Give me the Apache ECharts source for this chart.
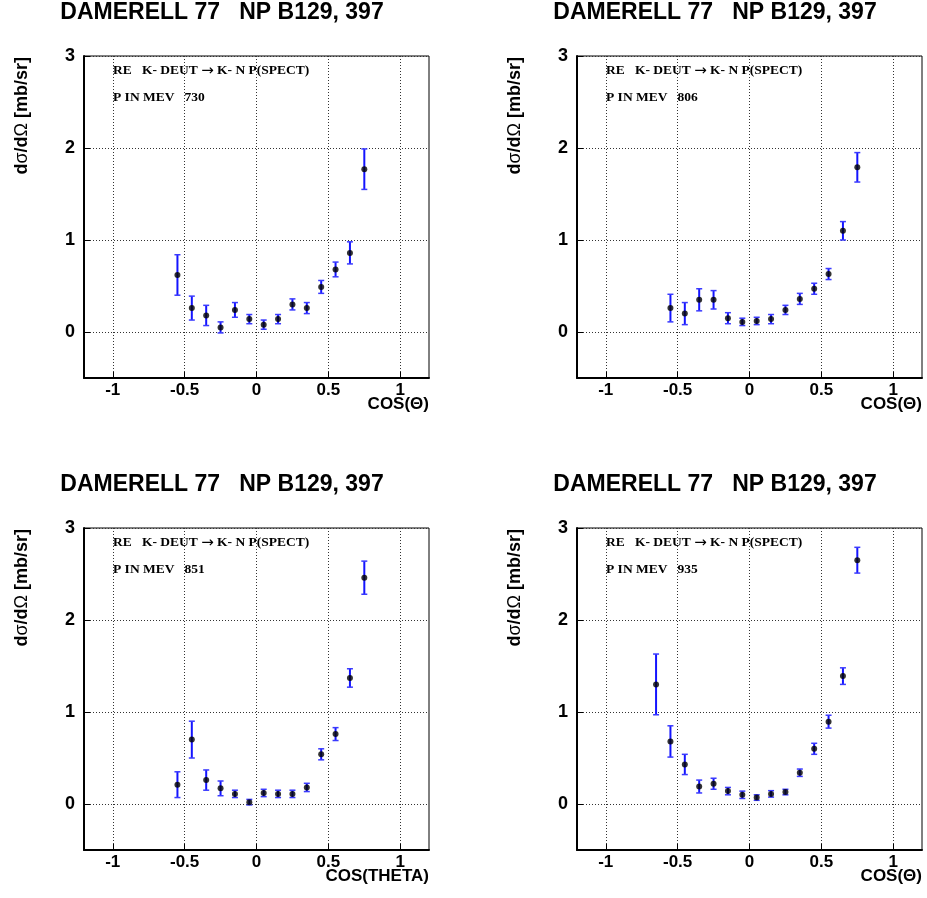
<!DOCTYPE html>
<html><head><meta charset="utf-8">
<script src="https://cdn.jsdelivr.net/npm/echarts@6/dist/echarts.min.js"></script>
<style>html,body{margin:0;padding:0;background:#fff}#c{width:927px;height:898px}</style>
</head><body><div id="c"></div>
<script>
// ---- data ----
const cosTheta = [-0.55,-0.45,-0.35,-0.25,-0.15,-0.05,0.05,0.15,0.25,0.35,0.45,0.55,0.65,0.75];
const cosTheta935 = [-0.65,-0.55,-0.45,-0.35,-0.25,-0.15,-0.05,0.05,0.15,0.25,0.35,0.45,0.55,0.65,0.75];

const xs730 = [0.62,0.26,0.18,0.05,0.24,0.14,0.08,0.14,0.30,0.26,0.49,0.68,0.86,1.77];
const err730 = [0.22,0.13,0.11,0.06,0.08,0.05,0.05,0.05,0.06,0.06,0.07,0.08,0.12,0.22];

const xs806 = [0.26,0.20,0.35,0.35,0.15,0.11,0.12,0.14,0.24,0.36,0.47,0.63,1.10,1.79];
const err806 = [0.15,0.12,0.12,0.10,0.06,0.04,0.04,0.05,0.05,0.06,0.06,0.06,0.10,0.16];

const xs851 = [0.21,0.70,0.26,0.17,0.11,0.02,0.12,0.11,0.11,0.18,0.54,0.76,1.37,2.46];
const err851 = [0.14,0.20,0.11,0.08,0.04,0.03,0.04,0.04,0.04,0.045,0.06,0.07,0.10,0.18];

const xs935 = [1.30,0.68,0.43,0.19,0.22,0.14,0.10,0.07,0.11,0.13,0.34,0.60,0.895,1.39,2.65];
const err935 = [0.33,0.17,0.11,0.07,0.06,0.04,0.04,0.03,0.035,0.03,0.04,0.06,0.07,0.09,0.14];

const momenta = [730, 806, 851, 935];
const xTicks = [-1, -0.5, 0, 0.5, 1];
const yTicks = [0, 1, 2, 3];
const titleText = 'DAMERELL 77   NP B129, 397';
const reactionLeft = 'RE   K- DEUT ';
const reactionArrow = '\u2192';
const reactionRight = ' K- N P(SPECT)';
const xNames = ['COS(\u0398)', 'COS(\u0398)', 'COS(THETA)', 'COS(\u0398)'];

// ---- build ----
const panels = [
  {x: cosTheta, y: xs730, e: err730},
  {x: cosTheta, y: xs806, e: err806},
  {x: cosTheta, y: xs851, e: err851},
  {x: cosTheta935, y: xs935, e: err935}
];
const boxes = [{l:84,t:56},{l:577,t:56},{l:84,t:528},{l:577,t:528}];
const W = 345, H = 322;
const sans = '"Liberation Sans", Arial, Helvetica, sans-serif';
const serif = '"Liberation Serif", "Times New Roman", serif';

const grids = [], xAxes = [], yAxes = [], series = [], graphics = [];
boxes.forEach((b, i) => {
  grids.push({left: b.l, top: b.t, width: W, height: H, show: true, borderColor: '#000', borderWidth: 1, containLabel: false});
  xAxes.push({
    gridIndex: i, type: 'value', min: -1.2, max: 1.2,
    axisLine: {show: true, onZero: false, lineStyle: {color: '#000', width: 2}},
    axisTick: {show: true, inside: true, length: 6, customValues: xTicks, lineStyle: {color: '#000', width: 1}},
    axisLabel: {customValues: xTicks, formatter: v => String(v), fontFamily: sans, fontWeight: 'bold', fontSize: 17, color: '#000', margin: 4},
    splitLine: {show: true, lineStyle: {type: [1, 2], color: '#333', width: 1}}
  });
  yAxes.push({
    gridIndex: i, type: 'value', min: -0.5, max: 3,
    axisLine: {show: true, onZero: false, lineStyle: {color: '#000', width: 2}},
    axisTick: {show: true, inside: true, length: 6, customValues: yTicks, lineStyle: {color: '#000', width: 1}},
    axisLabel: {customValues: yTicks, formatter: v => String(v), fontFamily: sans, fontWeight: 'bold', fontSize: 18, color: '#000', margin: 9},
    splitLine: {show: true, lineStyle: {type: [1, 2], color: '#333', width: 1}}
  });
  const p = panels[i];
  const errData = p.x.map((x, k) => [x, p.y[k], p.e[k]]);
  const ptData = p.x.map((x, k) => [x, p.y[k]]);
  series.push({
    type: 'custom', xAxisIndex: i, yAxisIndex: i, data: errData, z: 3,
    encode: {x: 0, y: 1},
    renderItem: (params, api) => {
      const x = api.value(0), y = api.value(1), e = api.value(2);
      const hi = api.coord([x, y + e]), lo = api.coord([x, y - e]);
      const cw = 3;
      return {type: 'group', children: [
        {type: 'line', shape: {x1: hi[0], y1: hi[1], x2: lo[0], y2: lo[1]}, style: {stroke: '#1414ff', lineWidth: 2}},
        {type: 'line', shape: {x1: hi[0]-cw, y1: hi[1], x2: hi[0]+cw, y2: hi[1]}, style: {stroke: '#3a3aff', lineWidth: 1.5}},
        {type: 'line', shape: {x1: lo[0]-cw, y1: lo[1], x2: lo[0]+cw, y2: lo[1]}, style: {stroke: '#3a3aff', lineWidth: 1.5}}
      ]};
    }
  });
  series.push({
    type: 'scatter', xAxisIndex: i, yAxisIndex: i, data: ptData, z: 4,
    symbol: 'circle', symbolSize: 6, itemStyle: {color: '#000'}
  });
  // texts
  graphics.push({type: 'text', x: b.l + 138, y: b.t - 43, style: {text: titleText, textAlign: 'center', textVerticalAlign: 'middle', font: 'bold 23px ' + sans, fill: '#000'}});
  graphics.push({type: 'text', x: b.l + 29, y: b.t + 15, style: {
    text: '{t|' + reactionLeft + '}{a|' + reactionArrow + '}{t|' + reactionRight + '}',
    textAlign: 'left', textVerticalAlign: 'middle',
    rich: {t: {font: 'bold 13.5px ' + serif, fill: '#000'}, a: {font: '15px "DejaVu Sans", sans-serif', fill: '#000'}}
  }});
  graphics.push({type: 'text', x: b.l + 29, y: b.t + 42, style: {text: 'P IN MEV   ' + momenta[i], textAlign: 'left', textVerticalAlign: 'middle', font: 'bold 13.5px ' + serif, fill: '#000'}});
  graphics.push({type: 'text', x: b.l - 62, y: b.t + 1, rotation: Math.PI / 2, style: {
    text: '{b|d}{n|\u03c3}{b|/d}{n|\u03a9}{b| [mb/sr]}', textAlign: 'right', textVerticalAlign: 'middle',
    rich: {b: {font: 'bold 18px ' + sans, fill: '#000'}, n: {font: '18px ' + sans, fill: '#000'}}
  }});
  graphics.push({type: 'text', x: b.l + W, y: b.t + H + 26, style: {text: xNames[i], textAlign: 'right', textVerticalAlign: 'middle', font: 'bold 17px ' + sans, fill: '#000'}});
});

const chart = echarts.init(document.getElementById('c'), null, {renderer: 'canvas'});
chart.setOption({
  animation: false,
  backgroundColor: '#fff',
  grid: grids, xAxis: xAxes, yAxis: yAxes, series: series, graphic: graphics
});
</script>
</body></html>
